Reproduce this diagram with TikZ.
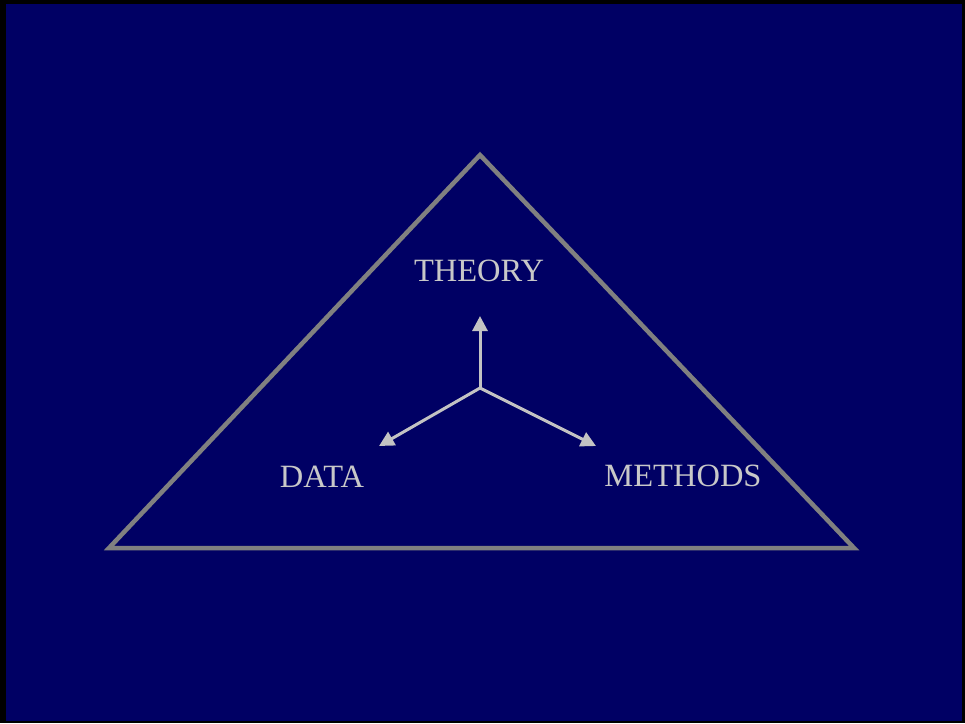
\documentclass[tikz,border=0pt]{standalone}
\usepackage{fontspec}
\setmainfont{Liberation Serif}
\usetikzlibrary{arrows.meta}
\definecolor{navy}{RGB}{0,0,100}
\definecolor{trigray}{RGB}{128,128,128}
\definecolor{lightg}{RGB}{200,200,200}
\definecolor{arrowg}{RGB}{195,195,195}
\tikzset{
  lbl/.style={text=lightg, font=\fontsize{32.5}{36}\selectfont, anchor=base, inner sep=0pt},
  vec/.style={draw=arrowg, line width=3pt, -{Triangle[length=15pt,width=15pt]}}
}
\begin{document}
\begin{tikzpicture}[x=1pt,y=-1pt]
\useasboundingbox (0,0) rectangle (965,723);
\fill[black] (0,0) rectangle (965,723);
\fill[navy] (6,4) rectangle (962,721);
\coordinate (apex) at (480,155);
\coordinate (bl) at (109,548);
\coordinate (br) at (854,548);
\draw[trigray, line width=4.5pt, line join=miter] (apex) -- (br) -- (bl) -- cycle;
\coordinate (c) at (480,388);
\coordinate (tu) at (480,316);
\coordinate (tl) at (379,446);
\coordinate (tr) at (596,446);
\draw[vec] (c) -- (tu);
\draw[vec] (c) -- (tl);
\draw[vec] (c) -- (tr);
\node[lbl] (theory) at (479,281) {THEORY};
\node[lbl] (data) at (322,487) {DATA};
\node[lbl] (methods) at (683,486) {METHODS};
\end{tikzpicture}
\end{document}
